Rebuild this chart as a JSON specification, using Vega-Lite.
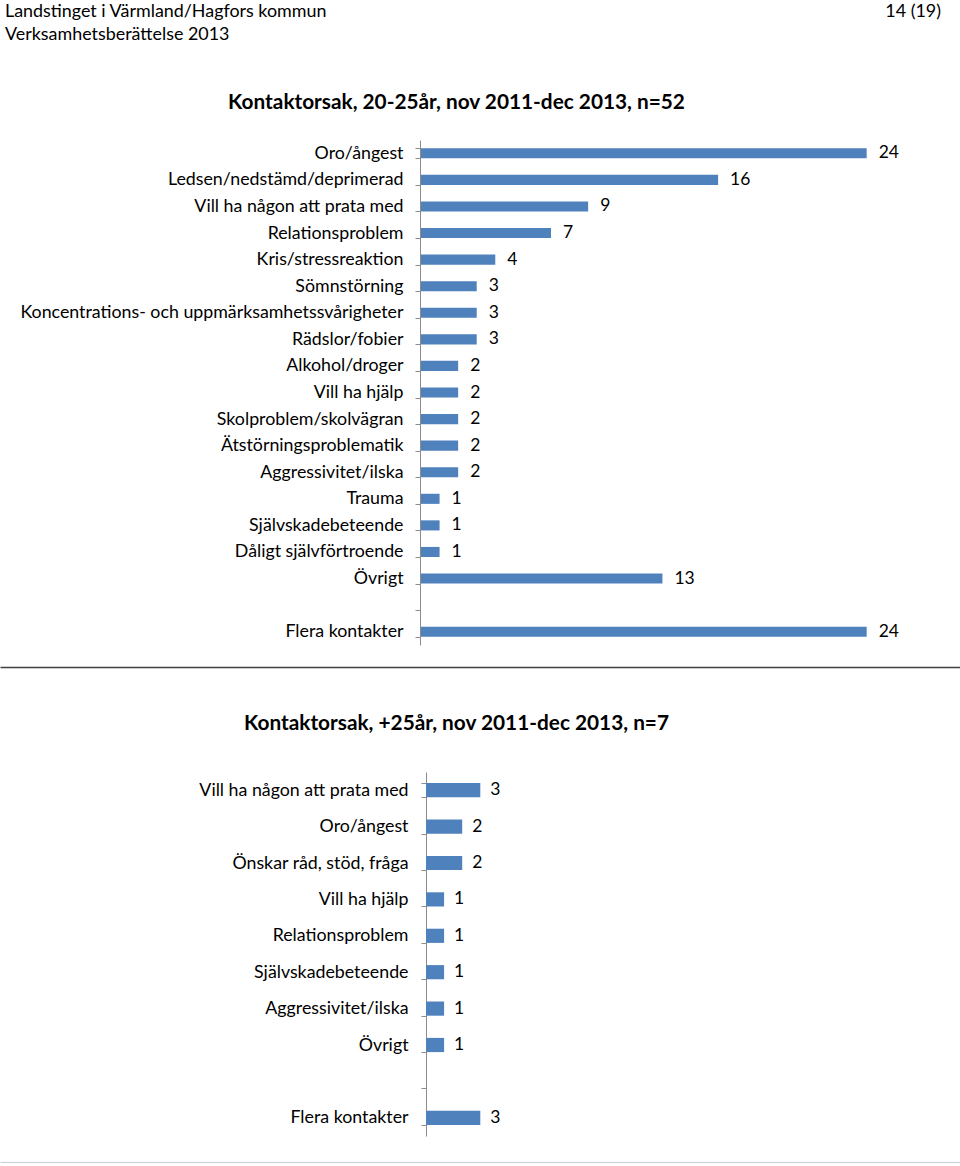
{
  "$schema": "https://vega.github.io/schema/vega-lite/v6.json",
  "padding": 0,
  "background": "#ffffff",
  "spacing": 45,
  "config": {
    "font": "Lato",
    "view": {"stroke": null},
    "title": {"font": "Lato", "color": "#000000"}
  },
  "vconcat": [
    {
      "width": 960,
      "height": 46,
      "data": {"values": [
        {"rad": "1", "sida": "vänster", "text": "Landstinget i Värmland/Hagfors kommun"},
        {"rad": "1", "sida": "höger", "text": "14 (19)"},
        {"rad": "2", "sida": "vänster", "text": "Verksamhetsberättelse 2013"}
      ]},
      "encoding": {
        "x": {"field": "sida", "type": "nominal", "scale": {"type": "point", "domain": ["vänster", "höger"], "padding": 0}, "axis": null},
        "y": {"field": "rad", "type": "ordinal", "scale": {"type": "point", "padding": 0.5}, "axis": null},
        "text": {"field": "text"}
      },
      "layer": [
        {"transform": [{"filter": "datum.sida === 'vänster'"}], "mark": {"type": "text", "align": "left", "baseline": "middle", "dx": 5, "fontSize": 17.9, "color": "#000000"}},
        {"transform": [{"filter": "datum.sida === 'höger'"}], "mark": {"type": "text", "align": "right", "baseline": "middle", "dx": -19, "fontSize": 17.9, "color": "#000000"}}
      ]
    },
    {
      "width": 960,
      "height": 505,
      "title": {"text": "Kontaktorsak, 20-25år, nov 2011-dec 2013, n=52", "fontSize": 20.8, "fontWeight": "bold", "anchor": "middle", "dx": -23.5, "offset": 17.5},
      "data": {"values": [
        {"orsak": "Oro/ångest", "antal": 24},
        {"orsak": "Ledsen/nedstämd/deprimerad", "antal": 16},
        {"orsak": "Vill ha någon att prata med", "antal": 9},
        {"orsak": "Relationsproblem", "antal": 7},
        {"orsak": "Kris/stressreaktion", "antal": 4},
        {"orsak": "Sömnstörning", "antal": 3},
        {"orsak": "Koncentrations- och uppmärksamhetssvårigheter", "antal": 3},
        {"orsak": "Rädslor/fobier", "antal": 3},
        {"orsak": "Alkohol/droger", "antal": 2},
        {"orsak": "Vill ha hjälp", "antal": 2},
        {"orsak": "Skolproblem/skolvägran", "antal": 2},
        {"orsak": "Ätstörningsproblematik", "antal": 2},
        {"orsak": "Aggressivitet/ilska", "antal": 2},
        {"orsak": "Trauma", "antal": 1},
        {"orsak": "Självskadebeteende", "antal": 1},
        {"orsak": "Dåligt självförtroende", "antal": 1},
        {"orsak": "Övrigt", "antal": 13},
        {"orsak": "Flera kontakter", "antal": 24}
      ]},
      "encoding": {
        "y": {
          "field": "orsak", "type": "nominal", "sort": null,
          "scale": {"domain": ["Oro/ångest", "Ledsen/nedstämd/deprimerad", "Vill ha någon att prata med", "Relationsproblem", "Kris/stressreaktion", "Sömnstörning", "Koncentrations- och uppmärksamhetssvårigheter", "Rädslor/fobier", "Alkohol/droger", "Vill ha hjälp", "Skolproblem/skolvägran", "Ätstörningsproblematik", "Aggressivitet/ilska", "Trauma", "Självskadebeteende", "Dåligt självförtroende", "Övrigt", " ", "Flera kontakter"], "paddingInner": 0.62, "paddingOuter": 0.31},
          "axis": {"title": null, "offset": -420, "tickBand": "extent", "domainColor": "#8c8c8c", "tickColor": "#8c8c8c", "tickSize": 5, "labelFontSize": 17.8, "labelColor": "#000000", "labelPadding": 12, "labelLimit": 0, "grid": false}
        }
      },
      "layer": [
        {
          "mark": {"type": "bar", "color": "#4F81BD"},
          "encoding": {
            "x": {"field": "antal", "type": "quantitative", "scale": {"domain": [-22.671, 29.025], "nice": false, "zero": false},
              "axis": {"orient": "bottom", "offset": 22, "labels": false, "ticks": false, "grid": false, "title": null, "domainColor": "#404040", "domainWidth": 1.5}}
          }
        },
        {
          "mark": {"type": "text", "align": "left", "baseline": "middle", "dx": 12, "fontSize": 17.5, "color": "#000000"},
          "encoding": {
            "x": {"field": "antal", "type": "quantitative"},
            "text": {"field": "antal", "type": "quantitative"}
          }
        }
      ]
    },
    {
      "width": 960,
      "height": 364,
      "title": {"text": "Kontaktorsak, +25år, nov 2011-dec 2013, n=7", "fontSize": 20.8, "fontWeight": "bold", "anchor": "middle", "dx": -23.5, "offset": 28.5},
      "data": {"values": [
        {"orsak": "Vill ha någon att prata med", "antal": 3},
        {"orsak": "Oro/ångest", "antal": 2},
        {"orsak": "Önskar råd, stöd, fråga", "antal": 2},
        {"orsak": "Vill ha hjälp", "antal": 1},
        {"orsak": "Relationsproblem", "antal": 1},
        {"orsak": "Självskadebeteende", "antal": 1},
        {"orsak": "Aggressivitet/ilska", "antal": 1},
        {"orsak": "Övrigt", "antal": 1},
        {"orsak": "Flera kontakter", "antal": 3}
      ]},
      "encoding": {
        "y": {
          "field": "orsak", "type": "nominal", "sort": null,
          "scale": {"domain": ["Vill ha någon att prata med", "Oro/ångest", "Önskar råd, stöd, fråga", "Vill ha hjälp", "Relationsproblem", "Självskadebeteende", "Aggressivitet/ilska", "Övrigt", " ", "Flera kontakter"], "paddingInner": 0.61, "paddingOuter": 0.305},
          "axis": {"title": null, "offset": -426, "tickBand": "extent", "domainColor": "#8c8c8c", "tickColor": "#8c8c8c", "tickSize": 5, "labelFontSize": 17.8, "labelColor": "#000000", "labelPadding": 13, "labelLimit": 0, "grid": false}
        }
      },
      "layer": [
        {
          "mark": {"type": "bar", "color": "#4F81BD"},
          "encoding": {
            "x": {"field": "antal", "type": "quantitative", "scale": {"domain": [-23.536, 29.503], "nice": false, "zero": false},
              "axis": {"orient": "bottom", "offset": 27, "labels": false, "ticks": false, "grid": false, "title": null, "domainColor": "#404040", "domainWidth": 1.5}}
          }
        },
        {
          "mark": {"type": "text", "align": "left", "baseline": "middle", "dx": 10, "fontSize": 17.5, "color": "#000000"},
          "encoding": {
            "x": {"field": "antal", "type": "quantitative"},
            "text": {"field": "antal", "type": "quantitative"}
          }
        }
      ]
    }
  ]
}
